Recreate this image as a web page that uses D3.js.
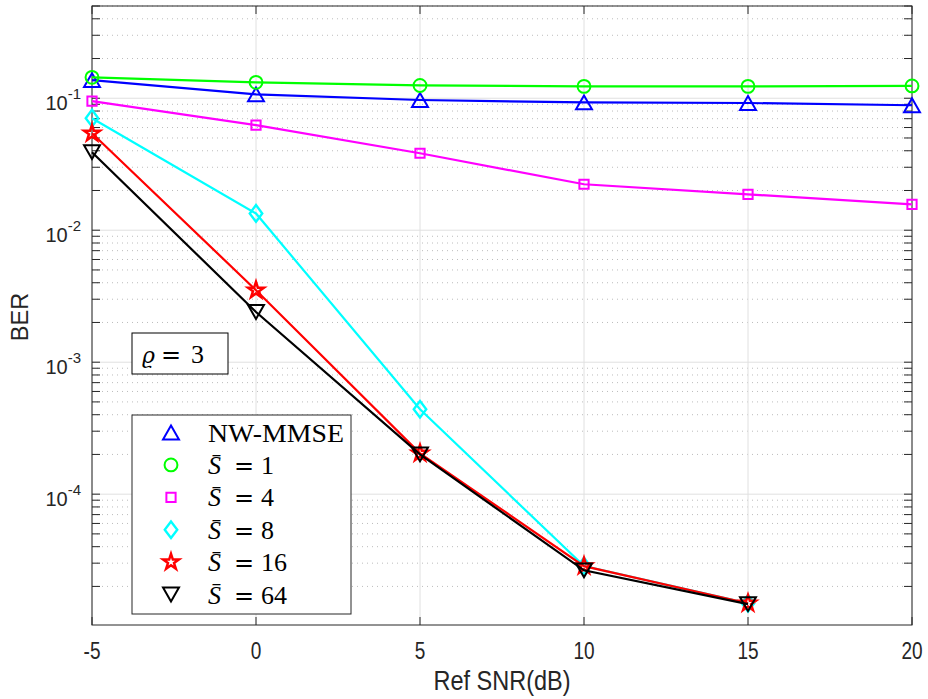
<!DOCTYPE html>
<html>
<head>
<meta charset="utf-8">
<script src="https://cdn.jsdelivr.net/npm/d3@7"></script>
<style>
  body { margin: 0; background: #fff; }
  svg { display: block; }
</style>
</head>
<body>
<svg id="chart" width="928" height="699"></svg>
<script>
// data
const snr = [-5, 0, 5, 10, 15, 20];
const nwMmse = [0.137, 0.107, 0.097, 0.093, 0.092, 0.0885];
const s1 = [0.144, 0.132, 0.125, 0.123, 0.123, 0.124];
const s4 = [0.095, 0.0625, 0.0383, 0.0223, 0.0187, 0.0157];
const s8 = [0.0706, 0.0134, 0.00044, 2.85e-5, 1.49e-5];
const s16 = [0.0543, 0.00351, 0.000204, 2.85e-5, 1.49e-5];
const s64 = [0.039, 0.0024, 0.0002, 2.65e-5, 1.47e-5];
const xTicks = [-5, 0, 5, 10, 15, 20];
const yTicks = [1e-4, 1e-3, 1e-2, 1e-1];

const series = [
  {name: "NW-MMSE", vals: nwMmse, color: "#0000ff", sym: "tri", sub: null},
  {name: "1", vals: s1, color: "#00ff00", sym: "circle", sub: "1"},
  {name: "4", vals: s4, color: "#ff00ff", sym: "square", sub: "4"},
  {name: "8", vals: s8, color: "#00ffff", sym: "diamond", sub: "8"},
  {name: "16", vals: s16, color: "#ff0000", sym: "star", sub: "16"},
  {name: "64", vals: s64, color: "#000000", sym: "trid", sub: "64"}
];

const svg = d3.select("#chart");
const mLeft = 92, mRight = 912, mTop = 6, mBottom = 625;

const x = d3.scaleLinear().domain([-5, 20]).range([mLeft, mRight]);
const y = d3.scaleLog().domain([1.02e-5, 0.5]).range([mBottom, mTop]);

const axisColor = "#262626";

// grid
const grid = svg.append("g");
const minors = [];
for (let e = -5; e <= -1; e++) {
  for (let m = 2; m <= 9; m++) {
    const v = m * Math.pow(10, e);
    if (v <= 0.5) minors.push(v);
  }
}
grid.selectAll(".minor").data(minors).join("line")
  .attr("x1", mLeft).attr("x2", mRight)
  .attr("y1", d => y(d)).attr("y2", d => y(d))
  .attr("stroke", "#bcbcbc").attr("stroke-width", 1)
  .attr("stroke-dasharray", "1,4");
grid.selectAll(".hmaj").data(yTicks).join("line")
  .attr("x1", mLeft).attr("x2", mRight)
  .attr("y1", d => y(d)).attr("y2", d => y(d))
  .attr("stroke", "#e0e0e0").attr("stroke-width", 1);
grid.selectAll(".vmaj").data(xTicks).join("line")
  .attr("x1", d => x(d)).attr("x2", d => x(d))
  .attr("y1", mTop).attr("y2", mBottom)
  .attr("stroke", "#e0e0e0").attr("stroke-width", 1);

// axes with inward ticks
const tickLen = 8;
const axG = svg.append("g").attr("stroke", axisColor).attr("stroke-width", 1);
axG.append("rect").attr("x", mLeft).attr("y", mTop)
  .attr("width", mRight - mLeft).attr("height", mBottom - mTop)
  .attr("fill", "none");
xTicks.forEach(t => {
  axG.append("line").attr("x1", x(t)).attr("x2", x(t)).attr("y1", mBottom).attr("y2", mBottom - tickLen);
  axG.append("line").attr("x1", x(t)).attr("x2", x(t)).attr("y1", mTop).attr("y2", mTop + tickLen);
});
yTicks.concat(minors).forEach(t => {
  axG.append("line").attr("x1", mLeft).attr("x2", mLeft + tickLen).attr("y1", y(t)).attr("y2", y(t));
  axG.append("line").attr("x1", mRight).attr("x2", mRight - tickLen).attr("y1", y(t)).attr("y2", y(t));
});

const font = "'Liberation Sans', Arial, sans-serif";
svg.append("g").selectAll("text").data(xTicks).join("text")
  .attr("transform", d => `translate(${x(d)},659) scale(0.95,1.2)`)
  .attr("text-anchor", "middle")
  .attr("font-family", font).attr("font-size", 20)
  .attr("fill", axisColor)
  .text(d => d);

const yl = svg.append("g").selectAll("text").data(yTicks).join("text")
  .attr("x", 81).attr("y", d => y(d) + 12)
  .attr("text-anchor", "end")
  .attr("font-family", font).attr("font-size", 20)
  .attr("fill", axisColor);
yl.append("tspan").text("10");
yl.append("tspan").attr("dy", -11).attr("font-size", 15)
  .text(d => "-" + Math.round(-Math.log10(d)));

svg.append("text")
  .attr("transform", "translate(502,690) scale(1,1.15)")
  .attr("text-anchor", "middle")
  .attr("font-family", font).attr("font-size", 23.5)
  .attr("fill", axisColor).text("Ref SNR(dB)");
svg.append("text")
  .attr("transform", "translate(28,317) rotate(-90)")
  .attr("text-anchor", "middle")
  .attr("font-family", font).attr("font-size", 23.5)
  .attr("fill", axisColor).text("BER");

// markers
const symTypes = {
  tri: d3.symbolTriangle,
  trid: d3.symbolTriangle,
  circle: d3.symbolCircle,
  square: d3.symbolSquare,
  diamond: d3.symbolDiamond,
  star: d3.symbolStar
};
const symSize = {tri: 110, trid: 110, circle: 130, square: 85, diamond: 80, star: 78};
function markerPath(s) {
  return d3.symbol().type(symTypes[s]).size(symSize[s])();
}
function markerTransform(s, px, py) {
  if (s === "tri") return `translate(${px},${py + 2.3})`;
  if (s === "trid") return `translate(${px},${py - 2.3}) rotate(180)`;
  if (s === "diamond") return `translate(${px},${py}) scale(1.3,1)`;
  return `translate(${px},${py})`;
}

const line = d3.line().x((d, i) => x(snr[i])).y(d => y(d));
const plot = svg.append("g");
series.forEach(s => {
  const g = plot.append("g");
  g.append("path").datum(s.vals)
    .attr("d", line)
    .attr("fill", "none")
    .attr("stroke", s.color)
    .attr("stroke-width", 2.2);
  g.selectAll("path.m").data(s.vals).join("path")
    .attr("class", "m")
    .attr("d", markerPath(s.sym))
    .attr("transform", (d, i) => markerTransform(s.sym, x(snr[i]), y(d)))
    .attr("fill", "none")
    .attr("stroke", s.color)
    .attr("stroke-width", s.sym === "star" ? 2.5 : 2);
});

// annotation box
const serif = "'Liberation Serif', 'DejaVu Serif', serif";
const eqFont = "'DejaVu Serif', serif";
svg.append("rect").attr("x", 132).attr("y", 333).attr("width", 96).attr("height", 41)
  .attr("fill", "#fff").attr("stroke", "#000").attr("stroke-width", 1);
const rho = svg.append("text").attr("y", 363)
  .attr("font-family", serif).attr("font-size", 26).attr("fill", "#000");
rho.append("tspan").attr("x", 142).attr("font-family", eqFont).attr("font-size", 22)
  .attr("font-style", "italic").text("ϱ");
rho.append("tspan").attr("x", 161).attr("font-family", eqFont).attr("font-size", 24).text("=");
rho.append("tspan").attr("x", 191).text("3");

// legend
const leg = svg.append("g");
leg.append("rect").attr("x", 132).attr("y", 415).attr("width", 219).attr("height", 199)
  .attr("fill", "#fff").attr("stroke", "#262626").attr("stroke-width", 1);
series.forEach((s, i) => {
  const ly = 432.5 + i * 32.4;
  leg.append("path")
    .attr("d", markerPath(s.sym))
    .attr("transform", markerTransform(s.sym, 171, ly))
    .attr("fill", "none").attr("stroke", s.color)
    .attr("stroke-width", s.sym === "star" ? 2.5 : 2);
  const t = leg.append("text").attr("y", ly + 9)
    .attr("font-family", serif).attr("font-size", 26).attr("fill", "#000");
  if (s.sub === null) {
    t.attr("x", 208).attr("textLength", 136).attr("lengthAdjust", "spacingAndGlyphs").text(s.name);
  } else {
    t.append("tspan").attr("x", 208).attr("font-style", "italic").text("S\u0304");
    t.append("tspan").attr("x", 234).attr("font-family", eqFont).attr("font-size", 24).text("=");
    t.append("tspan").attr("x", 261).text(s.sub);
  }
});
</script>
</body>
</html>
